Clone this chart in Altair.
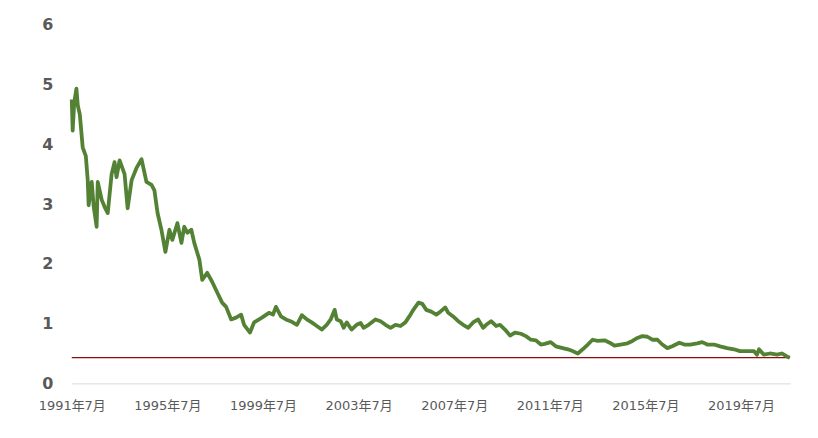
import altair as alt
import pandas as pd

dates = [
    "1991-07-01","1991-07-15","1991-08-08","1991-09-10","1991-10-01","1991-11-01","1991-12-15",
    "1992-02-01","1992-03-01","1992-03-15","1992-05-01","1992-06-01","1992-07-15","1992-08-01",
    "1992-10-01","1992-11-15","1993-01-01","1993-03-01","1993-04-15","1993-05-15","1993-07-01",
    "1993-09-15","1993-11-01","1994-01-01","1994-03-15","1994-06-01","1994-08-15","1994-11-01",
    "1994-12-15","1995-02-01","1995-04-01","1995-06-01","1995-08-01","1995-09-15","1995-12-01",
    "1996-02-01","1996-03-15","1996-05-01","1996-07-01","1996-08-15","1996-11-01","1996-12-15",
    "1997-03-01","1997-05-15","1997-08-01","1997-10-15","1997-12-15","1998-03-01","1998-05-15",
    "1998-08-01","1998-09-15","1998-12-15","1999-02-15","1999-06-15","1999-10-01","1999-12-01",
    "2000-01-15","2000-04-01","2000-06-15","2000-09-15","2000-12-01","2001-02-15","2001-05-01",
    "2001-07-15","2001-10-01","2001-12-15","2002-03-01","2002-05-01","2002-07-01","2002-08-01",
    "2002-10-01","2002-11-15","2003-01-01","2003-03-15","2003-06-01","2003-08-01","2003-09-15",
    "2003-12-01","2004-03-15","2004-06-01","2004-08-15","2004-11-01","2005-01-15","2005-04-01",
    "2005-06-15","2005-08-15","2005-10-15","2006-01-01","2006-03-01","2006-05-01","2006-07-15",
    "2006-10-01","2006-12-01","2007-02-15","2007-04-01","2007-06-15","2007-09-01","2007-11-15",
    "2008-02-01","2008-04-15","2008-07-01","2008-09-15","2008-11-01","2009-01-15","2009-04-01",
    "2009-06-01","2009-08-15","2009-11-01","2010-01-15","2010-04-15","2010-07-01","2010-09-15",
    "2010-12-01","2011-02-15","2011-04-15","2011-07-15","2011-10-01","2012-01-15","2012-04-01",
    "2012-06-15","2012-09-01","2012-11-15","2013-02-01","2013-04-15","2013-07-01","2013-10-15",
    "2014-01-01","2014-03-15","2014-06-15","2014-10-01","2014-12-15","2015-03-01","2015-05-15",
    "2015-08-01","2015-10-15","2016-01-01","2016-03-15","2016-06-01","2016-08-15","2016-12-01",
    "2017-02-15","2017-05-15","2017-09-01","2017-11-15","2018-02-01","2018-05-15","2018-08-15",
    "2018-12-01","2019-03-15","2019-06-15","2019-10-01","2020-01-15","2020-03-01","2020-04-01",
    "2020-06-15","2020-09-15","2021-01-01","2021-03-15","2021-06-01","2021-07-15",
]
values = [
    4.75, 4.23, 4.70, 4.93, 4.65, 4.50, 3.95,
    3.80, 3.40, 2.98, 3.37, 2.95, 2.62, 3.37,
    3.07, 2.95, 2.85, 3.50, 3.70, 3.45, 3.73,
    3.50, 2.93, 3.40, 3.60, 3.75, 3.37, 3.32,
    3.23, 2.85, 2.57, 2.20, 2.57, 2.40, 2.68,
    2.35, 2.62, 2.52, 2.57, 2.35, 2.07, 1.73,
    1.85, 1.70, 1.52, 1.35, 1.28, 1.07, 1.10,
    1.15, 0.98, 0.85, 1.02, 1.10, 1.18, 1.15,
    1.28, 1.12, 1.07, 1.03, 0.98, 1.14, 1.07,
    1.02, 0.96, 0.90, 0.98, 1.07, 1.23, 1.07,
    1.04, 0.93, 1.02, 0.90, 0.98, 1.01, 0.93,
    0.98, 1.07, 1.04, 0.98, 0.93, 0.98, 0.96,
    1.02, 1.12, 1.23, 1.35, 1.33, 1.23, 1.20,
    1.15, 1.20, 1.27, 1.18, 1.12, 1.04, 0.98,
    0.93, 1.02, 1.07, 0.93, 0.98, 1.04, 0.96,
    0.98, 0.90, 0.80, 0.85, 0.83, 0.79, 0.73,
    0.72, 0.65, 0.66, 0.69, 0.62, 0.59, 0.57,
    0.54, 0.50, 0.57, 0.65, 0.73, 0.71, 0.72,
    0.68, 0.63, 0.65, 0.67, 0.71, 0.76, 0.79,
    0.78, 0.73, 0.73, 0.65, 0.59, 0.62, 0.68,
    0.65, 0.65, 0.67, 0.69, 0.65, 0.65, 0.62,
    0.59, 0.57, 0.54, 0.54, 0.54, 0.48, 0.57,
    0.48, 0.50, 0.48, 0.50, 0.45, 0.43,
]
tick_dates = ["1991-07-01","1995-07-01","1999-07-01","2003-07-01",
              "2007-07-01","2011-07-01","2015-07-01","2019-07-01"]
reference_level = 0.43

df = pd.DataFrame({"date": pd.to_datetime(dates), "value": values})
ref = pd.DataFrame({"value": [reference_level]})

x_scale = alt.Scale(domain=[pd.Timestamp("1991-07-01").isoformat(),
                            pd.Timestamp("2021-07-20").isoformat()], nice=False)
y_scale = alt.Scale(domain=[0, 6], nice=False)

line = alt.Chart(df).mark_line(color="#548235", strokeWidth=3.8,
                               strokeJoin="round").encode(
    x=alt.X("date:T", scale=x_scale,
            axis=alt.Axis(title=None, format="%Y年%-m月",
                          values=[pd.Timestamp(d).isoformat() for d in tick_dates],
                          labelFont="DejaVu Sans, Noto Sans CJK JP", labelFontSize=13,
                          labelColor="#595959", labelPadding=16,
                          ticks=False, domainColor="#D9D9D9", domainWidth=1,
                          grid=False, labelFlush=False)),
    y=alt.Y("value:Q", scale=y_scale,
            axis=alt.Axis(title=None, values=[0, 1, 2, 3, 4, 5, 6], format="d",
                          labelFont="DejaVu Sans", labelFontSize=16,
                          labelFontWeight="bold",
                          labelColor="#595959", labelPadding=19, ticks=False,
                          domain=False, grid=False)),
)

rule = alt.Chart(ref).mark_rule(color="#8B0F0F", strokeWidth=1.3).encode(
    y=alt.Y("value:Q", scale=y_scale)
)

chart = alt.layer(rule, line).properties(
    width=721, height=360,
    autosize=alt.AutoSizeParams(type="none"),
    padding={"left": 64, "top": 16, "right": 20, "bottom": 40},
).configure(background="white").configure_view(stroke=None, strokeWidth=0)

chart.save("out.html", embed_options={"renderer": "svg", "actions": False})
